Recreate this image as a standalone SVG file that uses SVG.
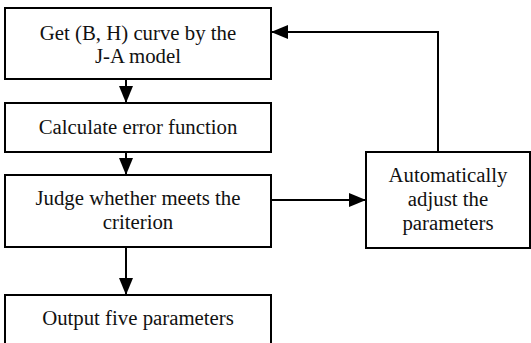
<svg xmlns="http://www.w3.org/2000/svg" width="531" height="343" viewBox="0 0 531 343">
<style>
.box{fill:#fff;stroke:#000;stroke-width:2}
.t{font-family:"Liberation Serif","Times New Roman",serif;font-size:20.8px;fill:#111;text-anchor:middle}
.ln{stroke:#000;stroke-width:2;fill:none}
</style>
<defs>
<marker id="ah" markerWidth="17" markerHeight="14" refX="17" refY="7" orient="auto" markerUnits="userSpaceOnUse">
<path d="M0,0 L17,7 L0,14 Z" fill="#000"/>
</marker>
</defs>
<g id="n1"><rect class="box" x="5" y="8" width="266" height="71"/>
<text class="t" x="138" y="40">Get (B, H) curve by the</text>
<text class="t" x="138" y="63">J-A model</text></g>
<g id="n2"><rect class="box" x="5" y="103" width="266" height="49"/>
<text class="t" x="138" y="134">Calculate error function</text></g>
<g id="n3"><rect class="box" x="5" y="175" width="266" height="72"/>
<text class="t" x="138" y="205">Judge whether meets the</text>
<text class="t" x="138" y="229">criterion</text></g>
<g id="n4"><rect class="box" x="5" y="295" width="266" height="60"/>
<text class="t" x="138" y="325">Output five parameters</text></g>
<g id="n5"><rect class="box" x="366" y="152" width="164" height="96"/>
<text class="t" x="448" y="182">Automatically</text>
<text class="t" x="448" y="206">adjust the</text>
<text class="t" x="448" y="230">parameters</text></g>
<g id="connectors">
<line class="ln" x1="126" y1="79" x2="126" y2="103" marker-end="url(#ah)"/>
<line class="ln" x1="126" y1="152" x2="126" y2="175" marker-end="url(#ah)"/>
<line class="ln" x1="126" y1="247" x2="126" y2="295" marker-end="url(#ah)"/>
<line class="ln" x1="271" y1="200" x2="366" y2="200" marker-end="url(#ah)"/>
<polyline class="ln" points="438,152 438,32 271,32" marker-end="url(#ah)"/>
</g>
</svg>
